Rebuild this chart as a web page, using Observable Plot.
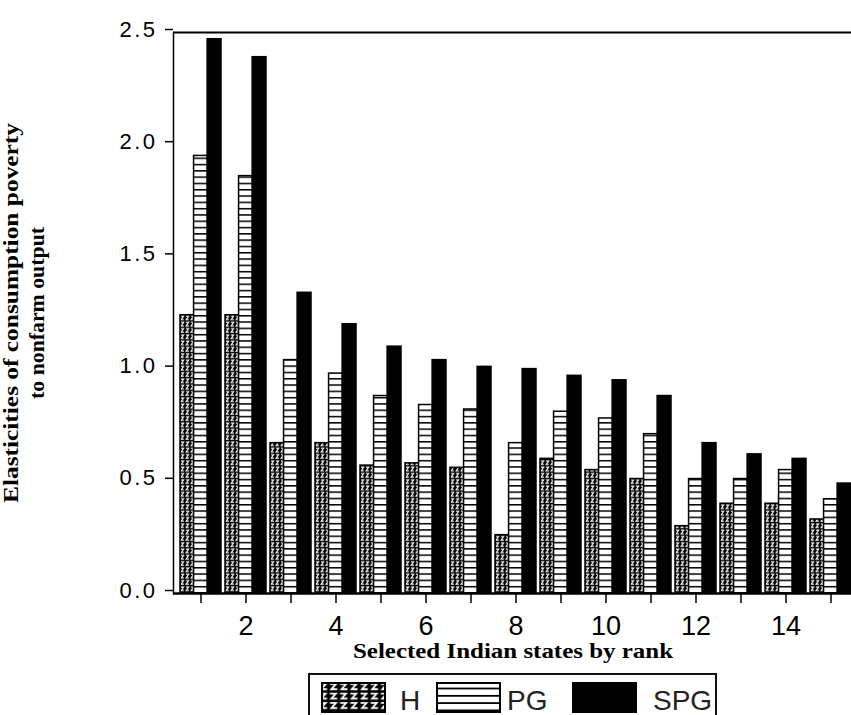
<!DOCTYPE html>
<html>
<head>
<meta charset="utf-8">
<script src="https://cdn.jsdelivr.net/npm/d3@7"></script>
<script src="https://cdn.jsdelivr.net/npm/@observablehq/plot@0.6"></script>
<style>
html, body { margin: 0; padding: 0; overflow: hidden; background: #fff; }
#wrap { position: relative; width: 851px; height: 715px; overflow: hidden; }
#chart { position: absolute; left: 0; top: 0; width: 880px; }
#chart svg { max-width: none !important; }
#legend { position: absolute; left: 308px; top: 673px; }
</style>
</head>
<body>
<svg width="0" height="0" style="position:absolute">
  <defs>
    <pattern id="hpat" patternUnits="userSpaceOnUse" width="5" height="6.3">
      <rect width="5" height="6.3" fill="#000"></rect>
      <path d="M0.9,1.1 H3.7 L1.1,4.6 H3.9" fill="none" stroke="#fff" stroke-width="1.1"></path>
    </pattern>
    <pattern id="pgpat" patternUnits="userSpaceOnUse" width="10" height="6.3">
      <rect width="10" height="6.3" fill="#fff"></rect>
      <rect width="10" height="1.5" fill="#000"></rect>
    </pattern>
    <pattern id="hleg" patternUnits="userSpaceOnUse" width="10.2" height="9.4">
      <rect width="10.2" height="9.4" fill="#000"></rect>
      <path d="M1.5,1.8 H7.5 L3,6.8 H8.8" fill="none" stroke="#fff" stroke-width="1.8"></path>
    </pattern>
    <pattern id="pgleg" patternUnits="userSpaceOnUse" width="10" height="7.3">
      <rect width="10" height="7.3" fill="#fff"></rect>
      <rect width="10" height="1.8" fill="#000"></rect>
    </pattern>
  </defs>
</svg>
<div id="wrap">
  <div id="chart"></div>
  <div id="legend"></div>
</div>
<script>
// ---- data ----
const states = [1, 2, 3, 4, 5, 6, 7, 8, 9, 10, 11, 12, 13, 14, 15];
const H   = [1.24, 1.24, 0.67, 0.67, 0.57, 0.58, 0.56, 0.26, 0.60, 0.55, 0.51, 0.30, 0.40, 0.40, 0.33];
const PG  = [1.95, 1.86, 1.04, 0.98, 0.88, 0.84, 0.82, 0.67, 0.81, 0.78, 0.71, 0.51, 0.51, 0.55, 0.42];
const SPG = [2.47, 2.39, 1.34, 1.20, 1.10, 1.04, 1.01, 1.00, 0.97, 0.95, 0.88, 0.67, 0.62, 0.60, 0.49];
const seriesNames = ["H", "PG", "SPG"];
const yTicks = [0, 0.5, 1.0, 1.5, 2.0, 2.5];
const xTickLabels = ["", "2", "", "4", "", "6", "", "8", "", "10", "", "12", "", "14", ""];
const yTitleLines = ["Elasticities of consumption poverty", "to nonfarm output"];
const xTitle = "Selected Indian states by rank";

// ---- table ----
const valuesBySeries = {H, PG, SPG};
const rows = [];
seriesNames.forEach(s => states.forEach((st, i) => rows.push({state: st, series: s, value: valuesBySeries[s][i]})));

// ---- layout ----
const W = 880, Ht = 668, ML = 173, MR = 22, MT = 32, MB = 75;
const padIn = 0.1, padOut = 0.125;
const step = (W - ML - MR) / (states.length - padIn + 2 * padOut);
const third = step * (1 - padIn) / 3;

const fills = {H: "url(#hpat)", PG: "url(#pgpat)", SPG: "#000"};
const insets = {H: [0, 2 * third], PG: [third, third], SPG: [2 * third, 0]};

const sans = "'Liberation Sans', Arial, sans-serif";
const serif = "'Liberation Serif', 'Times New Roman', serif";

const plot = Plot.plot({
  width: W,
  height: Ht,
  marginLeft: ML,
  marginRight: MR,
  marginTop: MT,
  marginBottom: MB,
  style: {background: "#fff", color: "#000", maxWidth: "none"},
  x: {domain: states, paddingInner: padIn, paddingOuter: padOut, align: 0.5},
  y: {domain: [0, 2.5]},
  marks: [
    ...seriesNames.map(s => Plot.barY(rows.filter(d => d.series === s), {
      x: "state", y: "value", fill: fills[s], stroke: "#000", strokeWidth: 1.5,
      insetLeft: insets[s][0], insetRight: insets[s][1]
    })),
    Plot.frame({anchor: "left", stroke: "#000", strokeWidth: 1.5}),
    Plot.ruleY([2.5], {stroke: "#000", strokeWidth: 2}),
    Plot.ruleY([0], {stroke: "#000", strokeWidth: 2.5}),
    Plot.axisY({ticks: yTicks, tickFormat: d => d.toFixed(1), tickSize: 8, tickPadding: 8,
      fontSize: 22, fontFamily: sans, dy: -3, label: null, strokeWidth: 1.5}),
    Plot.axisX({tickSize: 10, tickPadding: 12, tickFormat: d => xTickLabels[states.indexOf(d)],
      fontSize: 27, fontFamily: sans, label: null, strokeWidth: 1.5}),
    Plot.text([yTitleLines.join("\n")], {frameAnchor: "left", textAnchor: "middle", rotate: -90, dx: -151,
      lineAnchor: "middle", fontSize: 20, fontWeight: "bold", fontFamily: serif, lineHeight: 1.32, fill: "#000"}),
    Plot.text([xTitle], {frameAnchor: "bottom", dx: -3, dy: 58, lineAnchor: "middle",
      fontSize: 21, fontWeight: "bold", fontFamily: serif, fill: "#000"})
  ]
});
document.getElementById("chart").appendChild(plot);
d3.select(plot).selectAll("g[aria-label='y-axis tick label'] text").attr("letter-spacing", "2.5px");

// stretch titles to the widths seen in the reference
const titleLengths = new Map([[yTitleLines[0], 380], [yTitleLines[1], 172], [xTitle, 320]]);
d3.select(plot).selectAll("text, tspan").each(function() {
  if (this.querySelector && this.querySelector("tspan")) return;
  const L = titleLengths.get(this.textContent);
  if (L) d3.select(this).attr("textLength", L).attr("lengthAdjust", "spacingAndGlyphs");
});

// ---- legend ----
const legendItems = [
  {name: "H", fill: "url(#hleg)", sx: 14, tx: 92},
  {name: "PG", fill: "url(#pgleg)", sx: 129, tx: 199},
  {name: "SPG", fill: "#000", sx: 265, tx: 345}
];
const lg = d3.select("#legend").append("svg").attr("width", 411).attr("height", 60);
lg.append("rect").attr("x", 1).attr("y", 1).attr("width", 407).attr("height", 56)
  .attr("fill", "#fff").attr("stroke", "#111").attr("stroke-width", 2);
legendItems.forEach(it => {
  lg.append("rect").attr("x", it.sx).attr("y", 10).attr("width", 63).attr("height", 29)
    .attr("fill", it.fill).attr("stroke", "#000").attr("stroke-width", 2);
  lg.append("text").attr("x", it.tx).attr("y", 37).attr("font-family", sans)
    .attr("font-size", 28).attr("fill", "#222").text(it.name);
});
</script>
</body>
</html>
